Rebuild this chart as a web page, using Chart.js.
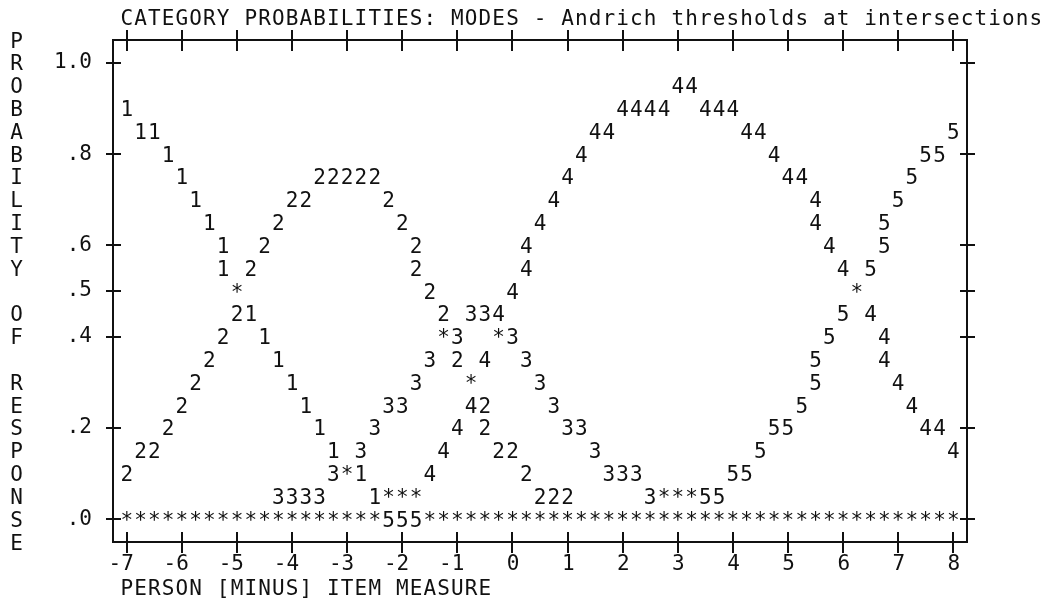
<!DOCTYPE html>
<html>
<head>
<meta charset="utf-8">
<script src="https://cdn.jsdelivr.net/npm/chart.js@4.4.1/dist/chart.umd.min.js"></script>
<style>
  html, body { margin: 0; padding: 0; background: #ffffff; }
</style>
</head>
<body>
<canvas id="probChart" width="1046" height="600"></canvas>
<script>
// Texts
const chartTitle = 'CATEGORY PROBABILITIES: MODES - Andrich thresholds at intersections';
const xAxisTitle = 'PERSON [MINUS] ITEM MEASURE';
const yAxisTitle = 'PROBABILITY OF RESPONSE';

// Axes
const xTicks = [-7, -6, -5, -4, -3, -2, -1, 0, 1, 2, 3, 4, 5, 6, 7, 8];
const xTickLabels = ['-7', '-6', '-5', '-4', '-3', '-2', '-1', '0', '1', '2', '3', '4', '5', '6', '7', '8'];
const yTicks = [0, 0.2, 0.4, 0.5, 0.6, 0.8, 1.0];
const yTickLabels = ['.0', '.2', '.4', '.5', '.6', '.8', '1.0'];

// Category curves as plotted, [measure, probability] per character
const categories = ['1', '2', '3', '4', '5'];
const cat1 = [[-7, .90], [-6.75, .85], [-6.5, .85], [-6.25, .80], [-6, .75], [-5.75, .70], [-5.5, .65],
  [-5.25, .60], [-5.25, .55], [-4.75, .45], [-4.5, .40], [-4.25, .35], [-4, .30], [-3.75, .25],
  [-3.5, .20], [-3.25, .15], [-2.75, .10], [-2.5, .05]];
const cat2 = [[-7, .10], [-6.75, .15], [-6.5, .15], [-6.25, .20], [-6, .25], [-5.75, .30], [-5.5, .35],
  [-5.25, .40], [-5, .45], [-4.75, .55], [-4.5, .60], [-4.25, .65], [-4, .70], [-3.75, .70],
  [-3.5, .75], [-3.25, .75], [-3, .75], [-2.75, .75], [-2.5, .75], [-2.25, .70], [-2, .65],
  [-1.75, .60], [-1.75, .55], [-1.5, .50], [-1.25, .45], [-1, .35], [-0.5, .25], [-0.5, .20],
  [-0.25, .15], [0, .15], [0.25, .10], [0.5, .05], [0.75, .05], [1, .05]];
const cat3 = [[-4.25, .05], [-4, .05], [-3.75, .05], [-3.5, .05], [-3.25, .10], [-2.75, .15], [-2.5, .20],
  [-2.25, .25], [-2, .25], [-1.75, .30], [-1.5, .35], [-1, .40], [-0.75, .45], [-0.5, .45],
  [0, .40], [0.25, .35], [0.5, .30], [0.75, .25], [1, .20], [1.25, .20], [1.5, .15],
  [1.75, .10], [2, .10], [2.25, .10], [2.5, .05]];
const cat4 = [[-1.5, .10], [-1.25, .15], [-1, .20], [-0.75, .25], [-0.5, .35], [-0.25, .45], [0, .50],
  [0.25, .55], [0.25, .60], [0.5, .65], [0.75, .70], [1, .75], [1.25, .80], [1.5, .85], [1.75, .85],
  [2, .90], [2.25, .90], [2.5, .90], [2.75, .90], [3, .95], [3.25, .95], [3.5, .90], [3.75, .90],
  [4, .90], [4.25, .85], [4.5, .85], [4.75, .80], [5, .75], [5.25, .75], [5.5, .70], [5.5, .65],
  [5.75, .60], [6, .55], [6.5, .45], [6.75, .40], [6.75, .35], [7, .30], [7.25, .25], [7.5, .20],
  [7.75, .20], [8, .15]];
const cat5 = [[-2.25, 0], [-2, 0], [-1.75, 0], [3.5, .05], [3.75, .05], [4, .10], [4.25, .10], [4.5, .15],
  [4.75, .20], [5, .20], [5.25, .25], [5.5, .30], [5.5, .35], [5.75, .40], [6, .45], [6.5, .55],
  [6.75, .60], [6.75, .65], [7, .70], [7.25, .75], [7.5, .80], [7.75, .80], [8, .85]];
// cells where two or more curves meet
const overlaps = [[-5, .50], [6.25, .50], [-1.25, .40], [-0.25, .40], [-0.75, .30], [-3, .10],
  [-2.25, .05], [-2, .05], [-1.75, .05], [2.75, .05], [3, .05], [3.25, .05]];
// the ".0" row is all asterisks between these measures
const zeroRowSpans = [[-7, -2.5], [-1.5, 8]];

// character grid of the plot
const columnStep = 0.25;
const rowStep = 0.05;

const FONT = '21px "DejaVu Sans Mono"';
const INK = '#111111';
const BASE = 7.5; // baseline offset so digits sit centred on their row

const toPoints = arr => arr.map(p => ({ x: p[0], y: p[1] }));
const zeroRow = [];
zeroRowSpans.forEach(([a, b]) => {
    for (let v = a; v <= b + 1e-9; v += columnStep) zeroRow.push({ x: v, y: 0 });
});

const datasets = [cat1, cat2, cat3, cat4, cat5].map((arr, i) => ({
    label: categories[i], glyph: categories[i], data: toPoints(arr)
}));
datasets.push({ label: 'overlap', glyph: '*', data: toPoints(overlaps) });
datasets.push({ label: 'zero', glyph: '*', data: zeroRow });

// draw each point as its character
const charPlot = {
    id: 'charPlot',
    afterDatasetsDraw(chart) {
        const ctx = chart.ctx;
        ctx.save();
        ctx.font = FONT;
        ctx.fillStyle = INK;
        ctx.textAlign = 'center';
        ctx.textBaseline = 'alphabetic';
        chart.data.datasets.forEach((ds, i) => {
            chart.getDatasetMeta(i).data.forEach(pt => {
                ctx.fillText(ds.glyph, pt.x, pt.y + BASE);
            });
        });
        ctx.restore();
    }
};

// "+" ticks across the frame, and the titles on the character grid
const frameText = {
    id: 'frameText',
    afterDraw(chart) {
        const { ctx, chartArea: a, scales: { x, y } } = chart;
        ctx.save();
        ctx.strokeStyle = INK;
        ctx.lineWidth = 2;
        ctx.beginPath();
        x.ticks.forEach(t => {
            const px = Math.round(x.getPixelForValue(t.value));
            ctx.moveTo(px, a.top - 10); ctx.lineTo(px, a.top + 11);
            ctx.moveTo(px, a.bottom - 10); ctx.lineTo(px, a.bottom + 11);
        });
        y.ticks.forEach(t => {
            const py = Math.round(y.getPixelForValue(t.value));
            ctx.moveTo(a.left - 7, py); ctx.lineTo(a.left + 8, py);
            ctx.moveTo(a.right - 7, py); ctx.lineTo(a.right + 8, py);
        });
        ctx.stroke();

        const colX = c => x.getPixelForValue(xTicks[0] + c * columnStep);
        const rowY = r => y.getPixelForValue(Math.max(...yTicks) - r * rowStep);
        ctx.font = FONT;
        ctx.fillStyle = INK;
        ctx.textAlign = 'center';
        const put = (text, col, row, vertical) => {
            [...text].forEach((ch, i) => {
                const c = vertical ? col : col + i;
                const r = vertical ? row + i : row;
                ctx.fillText(ch, colX(c), rowY(r) + BASE);
            });
        };
        put(chartTitle, 0, -2, false);
        put(xAxisTitle, 0, 23, false);
        put(yAxisTitle, -8, -1, true);
        ctx.restore();
    }
};

const tickFont = { family: 'DejaVu Sans Mono', size: 21 };
const frameBorder = { display: true, width: 2, color: INK };

new Chart(document.getElementById('probChart'), {
    type: 'scatter',
    data: { datasets: datasets },
    options: {
        responsive: false,
        animation: false,
        events: [],
        layout: { padding: { top: 40, right: 79, left: 0, bottom: 0 } },
        elements: { point: { radius: 0, hoverRadius: 0 } },
        plugins: { legend: { display: false }, tooltip: { enabled: false } },
        scales: {
            x: {
                type: 'linear', position: 'bottom', min: -7.25, max: 8.25,
                afterBuildTicks: s => { s.ticks = xTicks.map(v => ({ value: v })); },
                afterFit: s => { s.height = 58; },
                grid: { display: false, drawTicks: false },
                border: frameBorder,
                ticks: {
                    autoSkip: false, maxRotation: 0, align: 'end', labelOffset: 7, padding: 10,
                    color: INK, font: tickFont,
                    callback: (v, i) => xTickLabels[i]
                }
            },
            y: {
                type: 'linear', position: 'left', min: -0.05, max: 1.05,
                afterBuildTicks: s => { s.ticks = yTicks.map(v => ({ value: v })); },
                afterFit: s => { s.width = 113; },
                grid: { display: false, drawTicks: false },
                border: frameBorder,
                ticks: {
                    autoSkip: false, padding: 21, color: INK, font: tickFont,
                    callback: (v, i) => yTickLabels[i]
                }
            },
            xTop: {
                type: 'linear', position: 'top', min: -7.25, max: 8.25,
                grid: { display: false, drawTicks: false }, border: frameBorder,
                ticks: { display: false }
            },
            yRight: {
                type: 'linear', position: 'right', min: -0.05, max: 1.05,
                grid: { display: false, drawTicks: false }, border: frameBorder,
                ticks: { display: false }
            }
        }
    },
    plugins: [charPlot, frameText]
});
</script>
</body>
</html>
